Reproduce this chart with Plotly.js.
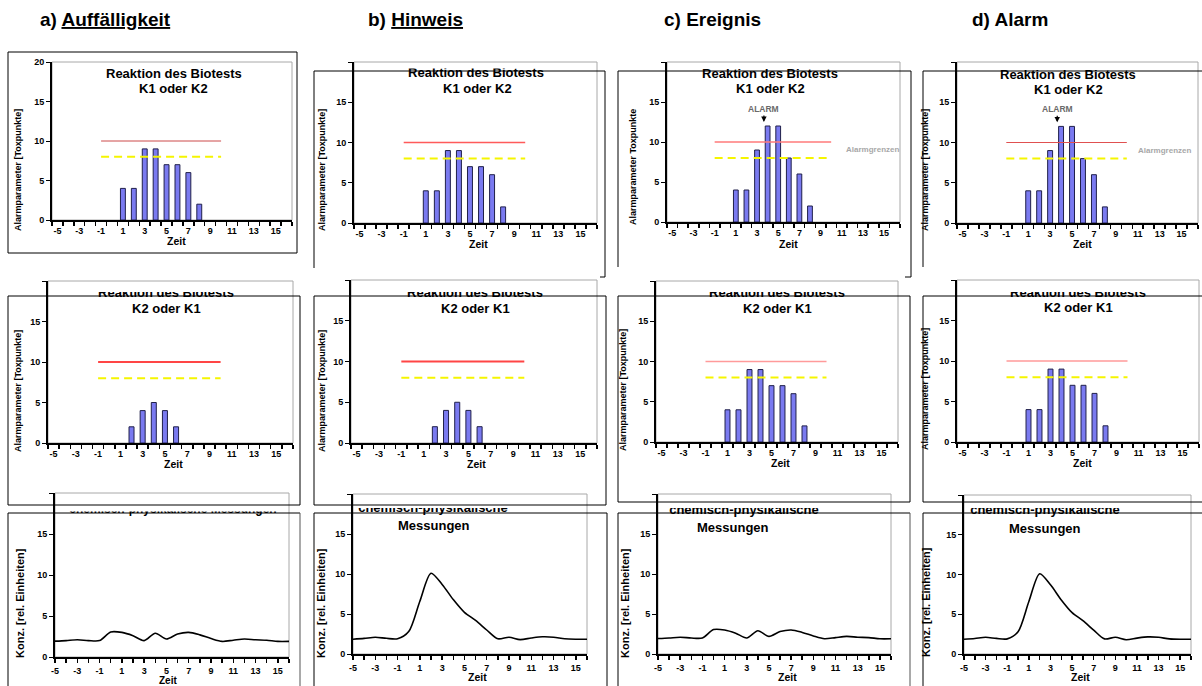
<!DOCTYPE html>
<html><head><meta charset="utf-8">
<script src="https://cdn.plot.ly/plotly-3.0.1.min.js"></script>
<style>html,body{margin:0;padding:0;background:#fff;}#chart{width:1202px;height:686px;}</style>
</head><body><div id="chart"></div>
<script>
// ---------------- data ----------------
const zeit = [-5,-4,-3,-2,-1,0,1,2,3,4,5,6,7,8,9,10,11,12,13,14,15,16];
const reaktionK1_ab = [0,0,0,0,0,0,4,4,9,9,7,7,6,2,0,0,0,0,0,0,0,0];
const reaktionK1_cd = [0,0,0,0,0,0,4,4,9,12,12,8,6,2,0,0,0,0,0,0,0,0];
const reaktionK2_ab = [0,0,0,0,0,0,0,2,4,5,4,2,0,0,0,0,0,0,0,0,0,0];
const reaktionK2_cd = [0,0,0,0,0,0,4,4,9,9,7,7,6,2,0,0,0,0,0,0,0,0];
const grenzeZeit = [-1, 10];
const alarmGrenze = [10, 10];
const warnGrenze = [8, 8];
const konzUnauffaellig = [1.93,2.0,2.1,2.0,2.0,3.05,3.0,2.6,2.0,2.9,2.2,2.8,3.0,2.7,2.25,1.9,2.05,2.2,2.1,2.05,1.9,1.9];
const konzPeak = [1.85,1.95,2.1,1.96,1.9,2.8,6.6,10.1,8.7,6.8,5.2,4.2,3.0,1.9,2.1,1.8,2.0,2.15,2.1,1.9,1.85,1.85];
const xTickVals = [-5,-3,-1,1,3,5,7,9,11,13,15];
const xTickText = ['-5','-3','-1','1','3','5','7','9','11','13','15'];
const yTickVals = [0,5,10,15,20];
const yTickTextFull = ['0','5','10','15','20'];
const yTickTextPart = ['0','5','10','15',''];
const spaltenTitel = ['a) <u>Auffälligkeit</u>','b) <u>Hinweis</u>','c) Ereignis','d) Alarm'];
const titelBio1 = 'Reaktion des Biotests';
const titelK1 = 'K1 oder K2';
const titelK2 = 'K2 oder K1';
const titelChem = 'chemisch-physikalische';
const titelMess = 'Messungen';
const titelChemFull = 'chemisch-physikalische Messungen';
const yTitelBio = 'Alarmparameter [Toxpunkte]';
const yTitelBioC = 'Alarmparameter Toxpunkte';
const yTitelKonz = 'Konz. [rel. Einheiten]';
const xTitel = 'Zeit';
const alarmText = 'ALARM';
const grenzText = 'Alarmgrenzen';

// ---------------- layout config ----------------
const W = 1202, H = 686;
const FONT = 'Liberation Sans, Arial, sans-serif';
const px = x => x / W;
const py = y => 1 - y / H;

const panels = [
 {x0:52,x1:292,yt:62,yb:220,kind:'bar',vals:reaktionK1_ab,red:'#cc4a4a',redW:1,topLabel:true,yTitle:yTitelBio,ytx:18,yty:170,zx:176,zy:241,
  titles:[{t:titelBio1,x:174,y:73},{t:titelK1,x:173,y:89}]},
 {x0:354,x1:597,yt:62,yb:223,kind:'bar',vals:reaktionK1_ab,red:'#ff5a5a',redW:1.5,yTitle:yTitelBio,ytx:322,yty:170,zx:478,zy:244,
  titles:[{t:titelBio1,x:476,y:71,clip:68.5},{t:titelK1,x:477,y:88}]},
 {x0:667,x1:900,yt:62,yb:222,kind:'bar',vals:reaktionK1_cd,red:'#ff7a7a',redW:1.5,yTitle:yTitelBioC,ytx:633,yty:167,zx:788,zy:244,alarm:{x:3.65,y:12.5,gx:13.95,gy:9.1},
  titles:[{t:titelBio1,x:770,y:72,clip:68.5},{t:titelK1,x:770,y:88}]},
 {x0:957,x1:1198,yt:62,yb:223,kind:'bar',vals:reaktionK1_cd,red:'#e05050',redW:1,yTitle:yTitelBio,ytx:925,yty:170,zx:1082,zy:244,alarm:{x:3.65,y:12.5,gx:13.4,gy:8.95},
  titles:[{t:titelBio1,x:1068,y:74.5},{t:titelK1,x:1068,y:90}]},
 {x0:48,x1:293,yt:281,yb:443,kind:'bar',vals:reaktionK2_ab,red:'#ff4545',redW:2,yTitle:yTitelBio,ytx:18,yty:391,zx:173,zy:464,
  titles:[{t:titelBio1,x:166,y:291.5,clip:292},{t:titelK2,x:166,y:308}]},
 {x0:351,x1:597,yt:280,yb:443,kind:'bar',vals:reaktionK2_ab,red:'#ff4545',redW:2,yTitle:yTitelBio,ytx:322,yty:391,zx:476,zy:464,
  titles:[{t:titelBio1,x:475,y:291.5,clip:292},{t:titelK2,x:475,y:308}]},
 {x0:656,x1:898,yt:281,yb:442,kind:'bar',vals:reaktionK2_cd,red:'#ff9a9a',redW:1.5,yTitle:yTitelBio,ytx:623,yty:390,zx:780,zy:463,
  titles:[{t:titelBio1,x:777,y:291.5,clip:292},{t:titelK2,x:777,y:308}]},
 {x0:957,x1:1199,yt:280,yb:442,kind:'bar',vals:reaktionK2_cd,red:'#ff9a9a',redW:1.5,yTitle:yTitelBio,ytx:925,yty:389,zx:1082,zy:463,
  titles:[{t:titelBio1,x:1078,y:291.5,clip:292},{t:titelK2,x:1078,y:307}]},
 {x0:55,x1:289,yt:493,yb:657,kind:'line',vals:konzUnauffaellig,yTitle:yTitelKonz,ytx:20,yty:603,zx:168,zy:680,zs:10,
  titles:[{t:titelChemFull,x:173,y:508,clip:511.5,size:12}]},
 {x0:353,x1:587,yt:494,yb:654,kind:'line',vals:konzPeak,yTitle:yTitelKonz,ytx:321,yty:603,zx:477,zy:677,
  titles:[{t:titelChem,x:433,y:506,clip:508},{t:titelMess,x:434,y:525}]},
 {x0:658,x1:891,yt:494,yb:654,kind:'line',vals:konzUnauffaellig,yTitle:yTitelKonz,ytx:625,yty:603,zx:787,zy:677,
  titles:[{t:titelChem,x:744,y:508.5,clip:508},{t:titelMess,x:733,y:527}]},
 {x0:964,x1:1191,yt:495,yb:654,kind:'line',vals:konzPeak,yTitle:yTitelKonz,ytx:926,yty:602,zx:1080,zy:677,
  titles:[{t:titelChem,x:1045,y:508,clip:508},{t:titelMess,x:1045,y:528}]}
];

// black frame segments of the pasted chart boxes [x0,y0,x1,y1,colour]
const boxLines = [
 [8,52,297,52],[8,52,8,253],[297,52,297,253],[8,253,297,253],
 [314,71,605,71],[314,71,314,268],[605,71,605,277],[600,277,605,277],
 [618,71,911,71],[618,71,618,267],[911,71,911,277],[905,277,911,277],
 [923,71,1202,71],[923,71,923,267],
 [8,296,300,296],[8,296,8,505],[300,296,300,505],[8,505,300,505],
 [314,296,606,296],[314,296,314,505],[606,296,606,505],[314,505,606,505],
 [618,296,910,296],[618,296,618,502],[910,296,910,502],[618,502,910,502],
 [923,296,1202,296],[923,296,923,502],[923,502,1202,502],
 [8,513,300,513],[8,513,8,686],[300,513,300,686,'#555'],
 [314,513,607,513],[314,513,314,686],[607,513,607,686],
 [618,513,910,513],[618,513,618,686],[910,513,910,686,'#555'],
 [923,513,1202,513],[923,513,923,686]
];

const headerPos = [{x:38,y:20},{x:366,y:20},{x:662,y:20},{x:970,y:20}];

// ---------------- build ----------------
const TICKFONT = {family:FONT,size:9,color:'#000',weight:'bold'};
const traces = [];
const layout = {
  width:W,height:H,margin:{l:0,r:0,t:0,b:0},autosize:false,
  paper_bgcolor:'#ffffff',plot_bgcolor:'rgba(0,0,0,0)',showlegend:false,
  font:{family:FONT,color:'#000'},annotations:[],shapes:[]
};
const aboveShapes = [], whiteShapes = [];

panels.forEach((p,i)=>{
  const n=i+1, sfx = n===1?'':String(n);
  const xa='x'+sfx, ya='y'+sfx;
  const isBar = p.kind==='bar';
  layout['xaxis'+sfx] = {
    domain:[px(p.x0),px(p.x1)],anchor:ya,range:isBar?[-5.5,16.5]:[-5,16],
    showline:true,linecolor:'#000',linewidth:2,showgrid:false,zeroline:false,
    tickmode:'array',tickvals:xTickVals,ticktext:xTickText,
    ticks:'outside',ticklen:isBar?1:4,tickcolor:isBar?'rgba(0,0,0,0)':'#000',tickwidth:1.5,
    tickfont:TICKFONT,fixedrange:true,
    minor:{tickmode:'linear',tick0:isBar?-5.5:-5,dtick:1,ticks:'outside',ticklen:4,tickcolor:'#000',tickwidth:1.5,showgrid:false}
  };
  layout['yaxis'+sfx] = {
    domain:[py(p.yb),py(p.yt)],anchor:xa,range:[0,20],
    showline:true,linecolor:'#000',linewidth:2,showgrid:false,zeroline:false,
    tickmode:'array',tickvals:yTickVals,ticktext:p.topLabel?yTickTextFull:yTickTextPart,
    ticks:'outside',ticklen:4,tickcolor:'#000',tickwidth:1,tickfont:TICKFONT,fixedrange:true
  };
  // grey plot-area frame
  layout.shapes.push({type:'rect',xref:xa+' domain',yref:ya+' domain',x0:0,x1:1,y0:0,y1:1,
    line:{color:'#a8a8a8',width:1},layer:'below'});

  if(isBar){
    traces.push({type:'bar',x:zeit,y:p.vals.map(v=>v===0?null:v),xaxis:xa,yaxis:ya,width:0.45,
      marker:{color:'#7a7af0',line:{color:'#20204a',width:1}},hoverinfo:'skip'});
    traces.push({type:'scatter',mode:'lines',x:grenzeZeit,y:alarmGrenze,xaxis:xa,yaxis:ya,
      line:{color:p.red,width:p.redW},hoverinfo:'skip'});
    traces.push({type:'scatter',mode:'lines',x:grenzeZeit,y:warnGrenze,xaxis:xa,yaxis:ya,
      line:{color:'#f5f500',width:2,dash:'8px,5px'},hoverinfo:'skip'});
  } else {
    traces.push({type:'scatter',mode:'lines',x:zeit,y:p.vals,xaxis:xa,yaxis:ya,
      line:{color:'#000',width:1.6,shape:'spline',smoothing:0.8},hoverinfo:'skip'});
  }

  // axis titles
  layout.annotations.push({xref:'paper',yref:'paper',x:px(p.ytx),y:py(p.yty),text:p.yTitle,textangle:-90,
    showarrow:false,xanchor:'center',yanchor:'middle',
    font:{family:FONT,size:isBar?9:11,weight:'bold',color:'#000'}});
  layout.annotations.push({xref:'paper',yref:'paper',x:px(p.zx),y:py(p.zy),text:xTitel,
    showarrow:false,xanchor:'center',yanchor:'middle',
    font:{family:FONT,size:p.zs||10.5,weight:'bold',color:'#000'}});

  // titles
  p.titles.forEach(t=>{
    const sz = t.size||13;
    if(t.clip===undefined){
      layout.annotations.push({xref:'paper',yref:'paper',x:px(t.x),y:py(t.y),text:t.t,showarrow:false,
        xanchor:'center',yanchor:'middle',font:{family:FONT,size:sz,weight:'bold',color:'#000'}});
    } else {
      aboveShapes.push({type:'rect',xref:'paper',yref:'paper',x0:px(t.x-120),x1:px(t.x+120),
        y0:py(t.y+8),y1:py(t.y-8),line:{width:0},fillcolor:'rgba(0,0,0,0)',layer:'above',
        label:{text:t.t,textposition:'middle center',font:{family:FONT,size:sz,weight:'bold',color:'#000'}}});
      const l = Math.max(p.x0+3,t.x-118), r = Math.min(p.x1-2,t.x+118);
      whiteShapes.push({type:'rect',xref:'paper',yref:'paper',x0:px(l),x1:px(r),
        y0:py(t.clip),y1:py(p.yt+1.5),line:{width:0},fillcolor:'#ffffff',layer:'above'});
    }
  });

  if(p.alarm){
    layout.annotations.push({xref:xa,yref:ya,x:p.alarm.x,y:p.alarm.y,text:alarmText,showarrow:true,
      arrowhead:2,arrowsize:0.9,arrowwidth:1.2,arrowcolor:'#000',ax:0,ay:-13,
      font:{family:FONT,size:8.5,weight:'bold',color:'#6a6a6a'}});
    layout.annotations.push({xref:xa,yref:ya,x:p.alarm.gx,y:p.alarm.gy,text:grenzText,showarrow:false,
      font:{family:FONT,size:8,weight:'bold',color:'#a8a8a8'}});
  }
});

spaltenTitel.forEach((t,i)=>{
  layout.annotations.push({xref:'paper',yref:'paper',x:px(headerPos[i].x),y:py(headerPos[i].y),text:t,
    showarrow:false,xanchor:'left',yanchor:'middle',font:{family:FONT,size:19,weight:'bold',color:'#000'}});
});

layout.shapes = layout.shapes.concat(aboveShapes, whiteShapes);
boxLines.forEach(b=>{
  layout.shapes.push({type:'line',xref:'paper',yref:'paper',x0:px(b[0]),y0:py(b[1]),x1:px(b[2]),y1:py(b[3]),
    line:{color:b[4]||'#000',width:1},layer:'above'});
});

Plotly.newPlot('chart',traces,layout,{displayModeBar:false,staticPlot:true});
</script>
</body></html>
